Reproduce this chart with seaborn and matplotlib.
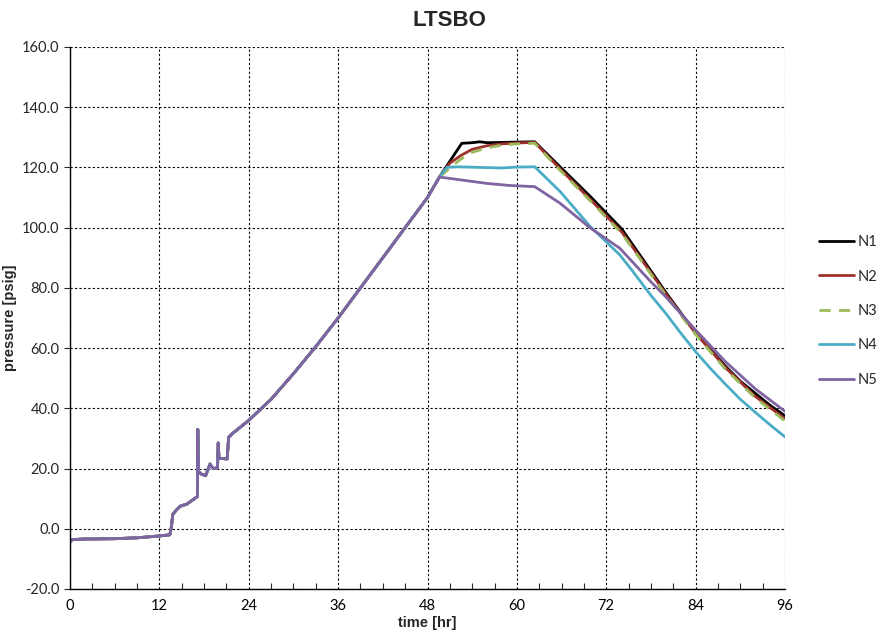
import matplotlib.pyplot as plt
import numpy as np
import pandas as pd
import seaborn as sns
from matplotlib.ticker import MultipleLocator, FormatStrFormatter

# Shared start (all five runs overlap until ~49.6 hr)
t_common = [0, 0.3, 2, 6, 9, 11, 12, 13.4, 13.6, 13.8, 14.2, 14.8, 15.7, 17.1, 17.15,
            17.25, 17.6, 18.2, 18.8, 19.2, 19.8, 19.9, 20.0, 21.1, 21.3, 21.8, 24, 27,
            30, 33, 36, 39, 42, 45, 48, 49.6]
p_common = [-4.3, -3.6, -3.4, -3.3, -3.0, -2.6, -2.4, -2.0, 0.5, 4.8, 6.0, 7.5, 8.2, 10.7, 33.0,
            19.0, 18.2, 17.6, 21.5, 20.0, 20.2, 28.5, 23.4, 23.2, 30.4, 31.6, 36, 43,
            51.5, 60.5, 70, 80, 90, 100, 110, 116.8]

# Individual tails
t_n1 = [52.6, 54, 55, 56, 58, 60, 62.4, 65.8, 70, 74.1, 77.9, 80, 84, 86, 88, 90, 92, 94, 96]
p_n1 = [128.0, 128.2, 128.5, 128.2, 128.3, 128.4, 128.5, 120.2, 110, 99.5, 86, 78.5, 65, 59.5, 54, 49, 45, 41, 37.5]

t_n2 = [51, 52.5, 54, 56, 58, 60, 62.4, 65.8, 70, 74.1, 78, 80, 84, 88, 92, 96]
p_n2 = [121.4, 124, 126, 127.2, 127.8, 128.1, 128.3, 119.5, 109, 98.5, 85, 78, 65, 53.5, 44, 36.5]

t_n3 = [51, 52.5, 54, 56, 58, 60, 62.4, 65.8, 70, 74.1, 78, 80, 84, 88, 92, 96]
p_n3 = [119.8, 122.8, 125, 126.5, 127.4, 127.8, 128.0, 119, 108.5, 98, 84.5, 77.5, 64.5, 53, 43.5, 35.8]

t_n4 = [50.6, 52, 55, 58, 60, 62.4, 65.8, 69.8, 73.8, 75.4, 78, 80, 82, 84, 86, 88, 90, 92, 94, 96]
p_n4 = [120.0, 120.2, 120.0, 119.8, 120.1, 120.2, 112, 100.5, 91, 86, 77.5, 71.5, 65, 58.8, 53.2, 48, 43, 38.7, 34.5, 30.5]

t_n5 = [55.9, 59, 62.4, 65.8, 69.8, 73.8, 76.5, 78, 80, 84, 88, 92, 96]
p_n5 = [114.7, 114.0, 113.6, 108.1, 100, 93.2, 86, 82, 77, 66, 55.5, 46.5, 39]

series = ["N1", "N2", "N3", "N4", "N5"]
tails = [(t_n1, p_n1), (t_n2, p_n2), (t_n3, p_n3), (t_n4, p_n4), (t_n5, p_n5)]
colors = ["#000000", "#A0322E", "#9BBB59", "#4BACC6", "#8064A2"]

frames = []
for name, (tt, pp) in zip(series, tails):
    frames.append(pd.DataFrame({"time": t_common + tt, "pressure": p_common + pp, "run": name}))
df = pd.concat(frames, ignore_index=True)

sns.set_style("white")
plt.rcParams["font.family"] = ["Liberation Sans", "DejaVu Sans"]

fig, ax = plt.subplots(figsize=(8.81, 6.43), dpi=100)
fig.subplots_adjust(left=0.0795, right=0.891, top=0.927, bottom=0.084)

sns.lineplot(data=df, x="time", y="pressure", hue="run", style="run",
             palette=dict(zip(series, colors)),
             dashes={"N1": "", "N2": "", "N3": (4, 3), "N4": "", "N5": ""},
             estimator=None, sort=False, linewidth=2.0, ax=ax)

ax.set_xlim(0, 96)
ax.set_ylim(-20, 160)
ax.xaxis.set_major_locator(MultipleLocator(12))
ax.xaxis.set_minor_locator(MultipleLocator(3))
ax.yaxis.set_major_locator(MultipleLocator(20))
ax.yaxis.set_major_formatter(FormatStrFormatter("%.1f"))
ax.grid(True, which="major", color="black", linestyle=(0, (2, 2)), linewidth=0.8)
ax.tick_params(axis="x", which="major", direction="inout", length=8, width=0.8,
               labelsize=10.5, colors="black")
ax.tick_params(axis="x", which="minor", direction="in", length=4, width=0.8, bottom=True)
ax.tick_params(axis="y", which="major", direction="out", length=4, width=0.8,
               labelsize=10.5, left=True)
for lbl in ax.get_xticklabels() + ax.get_yticklabels():
    lbl.set_family(["Lato", "DejaVu Sans"])

for s in ["top", "right"]:
    ax.spines[s].set_visible(False)
for s in ["left", "bottom"]:
    ax.spines[s].set_color("black")
    ax.spines[s].set_linewidth(1.0)

ax.set_xlabel("time [hr]", fontsize=10.5, fontweight="bold", labelpad=2)
ax.set_ylabel("pressure [psig]", fontsize=10.5, fontweight="bold", labelpad=4)
fig.suptitle("LTSBO", x=0.51, y=0.985, fontsize=16, fontweight="bold")

leg = ax.legend(loc="center left", bbox_to_anchor=(1.04, 0.513), frameon=False,
                borderaxespad=0, handlelength=2.4, labelspacing=1.4, fontsize=10.5,
                handletextpad=0.2)
for t in leg.get_texts():
    t.set_family(["Lato", "DejaVu Sans"])

fig.savefig("out.png", dpi=100)
